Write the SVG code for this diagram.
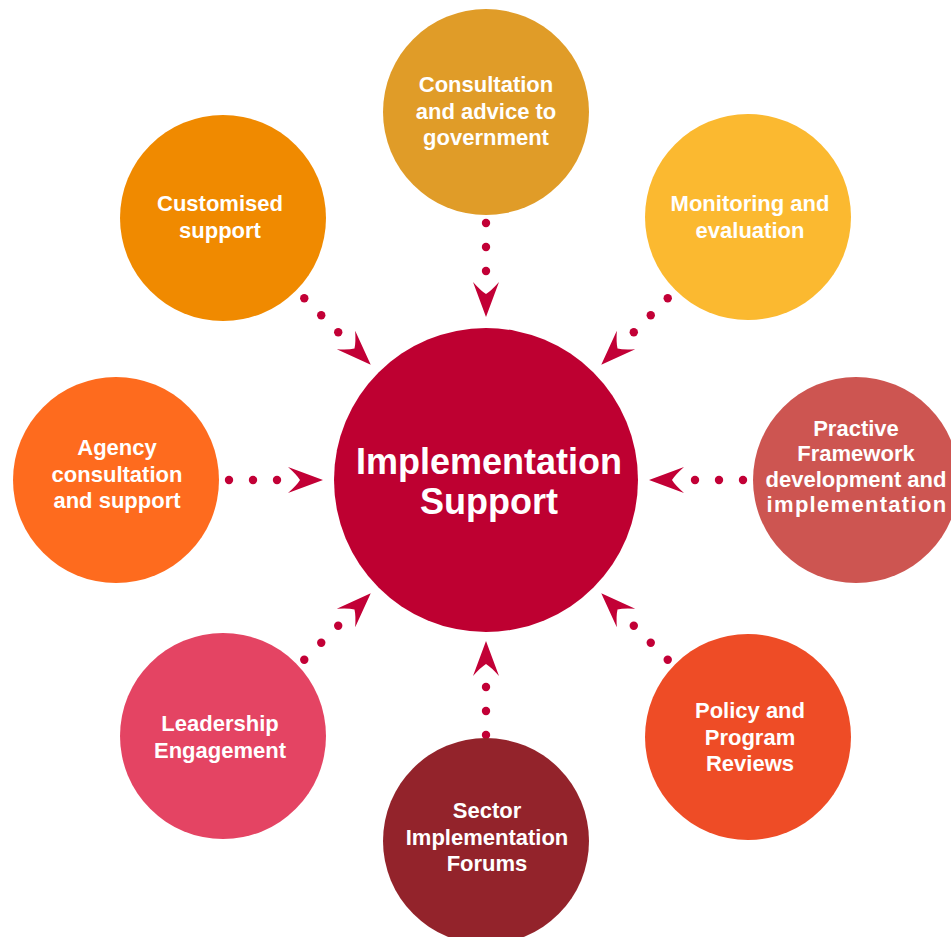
<svg xmlns="http://www.w3.org/2000/svg" xmlns:xlink="http://www.w3.org/1999/xlink" width="951" height="937" viewBox="0 0 951 937">
<style>
.lbl{font-family:"Liberation Sans",Arial,Helvetica,sans-serif;font-weight:bold;font-size:22px;fill:#ffffff;text-anchor:middle}
.big{font-size:36px}
.con{fill:#c20036}
</style>
<defs>
<g id="arr" class="con">
<circle cx="-257" cy="0" r="4.2"/>
<circle cx="-233" cy="0" r="4.2"/>
<circle cx="-209" cy="0" r="4.2"/>
<path d="M-163,0 L-198,-13 Q-189,-5 -186,0 Q-189,5 -198,13 Z"/>
</g>
</defs>
<rect width="951" height="937" fill="#ffffff"/>
<g id="connectors">
<use xlink:href="#arr" href="#arr" transform="translate(486,480) rotate(0)"/>
<use xlink:href="#arr" href="#arr" transform="translate(486,480) rotate(45)"/>
<use xlink:href="#arr" href="#arr" transform="translate(486,480) rotate(90)"/>
<use xlink:href="#arr" href="#arr" transform="translate(486,480) rotate(135)"/>
<use xlink:href="#arr" href="#arr" transform="translate(486,480) rotate(180)"/>
<use xlink:href="#arr" href="#arr" transform="translate(486,478) rotate(225)"/>
<use xlink:href="#arr" href="#arr" transform="translate(486,478) rotate(270)"/>
<use xlink:href="#arr" href="#arr" transform="translate(486,478) rotate(315)"/>
</g>
<g id="center">
<circle cx="486" cy="480" r="152" fill="#be0031"/>
<text class="lbl big" x="489" y="474">Implementation</text>
<text class="lbl big" x="489" y="514">Support</text>
</g>
<g id="consultation">
<circle cx="486" cy="112" r="103" fill="#e09c28"/>
<text class="lbl" x="486" y="92">Consultation</text>
<text class="lbl" x="486" y="118.5">and advice to</text>
<text class="lbl" x="486" y="145">government</text>
</g>
<g id="monitoring">
<circle cx="748" cy="217" r="103" fill="#fbb930"/>
<text class="lbl" x="750" y="211">Monitoring and</text>
<text class="lbl" x="750" y="237.5">evaluation</text>
</g>
<g id="practive">
<circle cx="856" cy="480" r="103" fill="#cd5551"/>
<text class="lbl" x="856" y="435.5">Practive</text>
<text class="lbl" x="856" y="461">Framework</text>
<text class="lbl" x="856" y="486.5">development and</text>
<text class="lbl" x="857" y="512" letter-spacing="1.3">implementation</text>
</g>
<g id="policy">
<circle cx="748" cy="737" r="103" fill="#ee4c26"/>
<text class="lbl" x="750" y="718">Policy and</text>
<text class="lbl" x="750" y="744.5">Program</text>
<text class="lbl" x="750" y="771">Reviews</text>
</g>
<g id="sector">
<circle cx="486" cy="841" r="103" fill="#93232b"/>
<text class="lbl" x="487" y="818">Sector</text>
<text class="lbl" x="487" y="844.5">Implementation</text>
<text class="lbl" x="487" y="871">Forums</text>
</g>
<g id="leadership">
<circle cx="223" cy="736" r="103" fill="#e44463"/>
<text class="lbl" x="220" y="731">Leadership</text>
<text class="lbl" x="220" y="757.5">Engagement</text>
</g>
<g id="agency">
<circle cx="116" cy="480" r="103" fill="#fe6b1e"/>
<text class="lbl" x="117" y="455">Agency</text>
<text class="lbl" x="117" y="481.5">consultation</text>
<text class="lbl" x="117" y="508">and support</text>
</g>
<g id="customised">
<circle cx="223" cy="218" r="103" fill="#f08a00"/>
<text class="lbl" x="220" y="211">Customised</text>
<text class="lbl" x="220" y="237.5">support</text>
</g>
</svg>
